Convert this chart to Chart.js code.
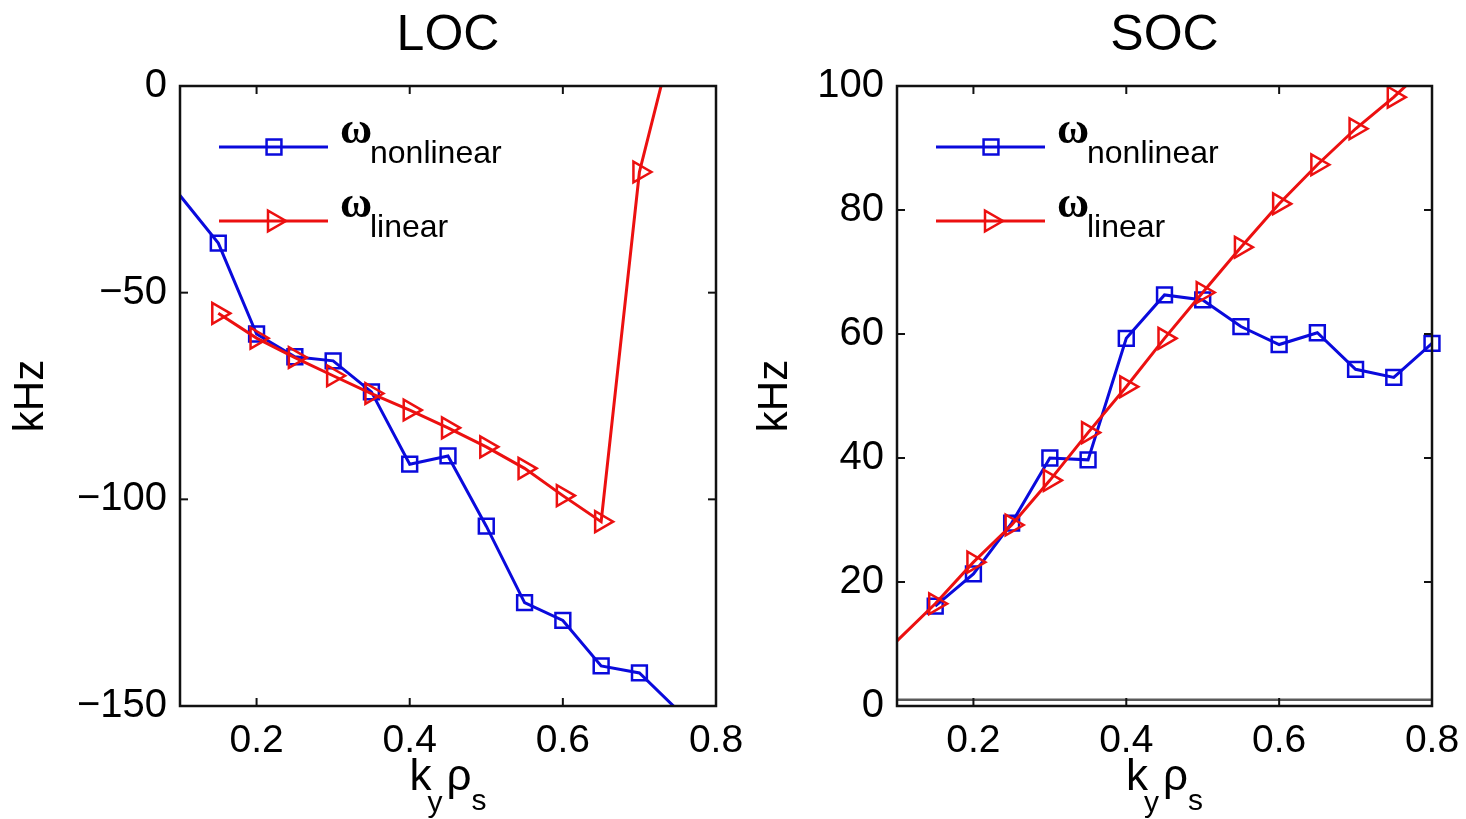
<!DOCTYPE html>
<html>
<head>
<meta charset="utf-8">
<script src="https://cdn.jsdelivr.net/npm/chart.js@4.4.1/dist/chart.umd.min.js"></script>
<style>
html, body { margin: 0; padding: 0; background: #fff; }
#wrap { position: relative; width: 1466px; height: 819px; overflow: hidden; }
.panel { position: absolute; left: 0; top: 0; width: 1466px; height: 819px; }
</style>
</head>
<body>
<div id="wrap">
  <div class="panel"><canvas id="loc"></canvas></div>
  <div class="panel"><canvas id="soc"></canvas></div>
</div>
<script>
// k_y rho_s sample points shared by every series
var kyRho = [0.1, 0.15, 0.2, 0.25, 0.3, 0.35, 0.4, 0.45, 0.5, 0.55, 0.6, 0.65, 0.7, 0.75, 0.8];

// LOC panel (kHz)
var locNonlinear = [-26.5, -38, -60, -65.5, -66.5, -74, -91.5, -89.5, -106.5, -125, -129.3, -140.3, -142, -151, null];
var locLinear = [null, -55, -61, -65.7, -70.1, -74.4, -78.4, -82.7, -87.3, -92.5, -99.1, -105.4, -20.8, 16, null];

// SOC panel (kHz)
var socNonlinear = [null, 16.1, 21.3, 29.5, 40, 39.7, 59.3, 66.3, 65.5, 61.2, 58.3, 60.2, 54.3, 53, 58.5];
var socLinear = [10.5, 16.5, 23.2, 29.2, 36.4, 44.1, 51.5, 59.3, 66.7, 74, 81, 87.3, 93.1, 98.2, 104];
var socFloor = [1, 1];

// axis ticks
var xTicks = [0.2, 0.4, 0.6, 0.8];
var locYTicks = [0, -50, -100, -150];
var socYTicks = [0, 20, 40, 60, 80, 100];

var BLUE = '#0a0adc';
var RED = '#ec1010';

Chart.defaults.font.family = '"Liberation Sans", Arial, Helvetica, sans-serif';
Chart.defaults.color = '#000';

function pts(values) {
  return kyRho.map(function (x, i) { return { x: x, y: values[i] }; })
    .filter(function (p) { return p.y !== null; });
}

// hide markers that sit outside (or on the left edge of) the axes, like the original
function markerRadius(r, xMin, yMin, yMax) {
  return function (c) {
    var p = c.raw;
    if (!p) return 0;
    return (p.x > xMin && p.y >= yMin && p.y <= yMax) ? r : 0;
  };
}

function seriesSet(values, color, style, r, yMin, yMax, order) {
  return {
    data: pts(values),
    borderColor: color,
    backgroundColor: 'rgba(0,0,0,0)',
    borderWidth: 3,
    pointStyle: style,
    pointRotation: style === 'triangle' ? 90 : 0,
    pointBorderWidth: 2.5,
    pointRadius: markerRadius(r, 0.1, yMin, yMax),
    legendRadius: r,
    tension: 0,
    order: order,
    clip: { left: 0, top: 0, right: 15, bottom: 0 }
  };
}

function drawMarker(ctx, style, r, rot, x, y) {
  if (Chart.helpers && Chart.helpers.drawPoint) {
    Chart.helpers.drawPoint(ctx, { pointStyle: style, radius: r, rotation: rot, borderWidth: 2.5 }, x, y);
    return;
  }
  ctx.beginPath();
  if (style === 'rect') {
    var s = r * Math.SQRT1_2;
    ctx.rect(x - s, y - s, 2 * s, 2 * s);
  } else {
    ctx.moveTo(x + r, y);
    ctx.lineTo(x - r / 2, y - r * 0.866);
    ctx.lineTo(x - r / 2, y + r * 0.866);
    ctx.closePath();
  }
  ctx.stroke();
}

// MATLAB-like box, inward ticks, title, x label and legend
var matlabFrame = {
  id: 'matlabFrame',
  afterDraw: function (chart, args, opts) {
    var ctx = chart.ctx, a = chart.chartArea;
    var xs = chart.scales.x, ys = chart.scales.y;
    var fam = Chart.defaults.font.family;
    function seg(x1, y1, x2, y2) { ctx.beginPath(); ctx.moveTo(x1, y1); ctx.lineTo(x2, y2); ctx.stroke(); }
    ctx.save();

    ctx.strokeStyle = '#111';
    ctx.lineWidth = 2;
    xs.ticks.forEach(function (t) {
      var px = xs.getPixelForValue(t.value);
      seg(px, a.bottom, px, a.bottom - 8);
      seg(px, a.top, px, a.top + 8);
    });
    ys.ticks.forEach(function (t) {
      var py = ys.getPixelForValue(t.value);
      seg(a.left, py, a.left + 8, py);
      seg(a.right, py, a.right - 8, py);
    });
    ctx.lineWidth = 2.5;
    ctx.strokeRect(a.left, a.top, a.right - a.left, a.bottom - a.top);

    var cx = (a.left + a.right) / 2;
    ctx.fillStyle = '#000';
    ctx.textAlign = 'center';
    ctx.textBaseline = 'alphabetic';
    ctx.font = '50px ' + fam;
    ctx.fillText(opts.title, cx, a.top - 36);

    // k_y rho_s
    ctx.textAlign = 'left';
    var base = a.bottom + 84, x0 = cx - 38.5;
    [['k', 44, 0, 0], ['y', 30, 18, 22], ['\u03c1', 44, 37, 0], ['s', 30, 62, 20]].forEach(function (p) {
      ctx.font = p[1] + 'px ' + fam;
      ctx.fillText(p[0], x0 + p[2], base + p[3]);
    });

    // legend
    opts.legend.forEach(function (e, i) {
      var ds = chart.data.datasets[e.index];
      var y = a.top + 61 + i * 74;
      ctx.strokeStyle = ds.borderColor;
      ctx.fillStyle = 'rgba(0,0,0,0)';
      ctx.lineWidth = 3;
      seg(a.left + 39, y, a.left + 148, y);
      ctx.lineWidth = 2.5;
      drawMarker(ctx, ds.pointStyle, ds.legendRadius, ds.pointRotation, a.left + 94, y);
      ctx.fillStyle = '#000';
      ctx.font = 'bold 44px "Liberation Serif", "DejaVu Serif", serif';
      ctx.fillText('\u03c9', a.left + 160, y - 4);
      ctx.font = '32px ' + fam;
      ctx.fillText(e.sub, a.left + 190, y + 16);
    });
    ctx.restore();
  }
};

function xAxis() {
  return {
    type: 'linear',
    min: 0.1,
    max: 0.8,
    afterBuildTicks: function (s) { s.ticks = xTicks.map(function (v) { return { value: v }; }); },
    afterFit: function (s) { s.height = 113; s.paddingLeft = 0; s.paddingRight = 0; },
    grid: { display: false, drawTicks: false },
    border: { display: false },
    ticks: { font: { size: 39 }, padding: 12, maxRotation: 0, autoSkip: false,
      callback: function (v) { return String(v); } }
  };
}

function yAxis(ticks, min, max, width, titlePad) {
  return {
    type: 'linear',
    min: min,
    max: max,
    afterBuildTicks: function (s) { s.ticks = ticks.map(function (v) { return { value: v }; }); },
    afterFit: function (s) { s.width = width; },
    grid: { display: false, drawTicks: false },
    border: { display: false },
    ticks: { font: { size: 40 }, padding: 13, autoSkip: false,
      callback: function (v) { return String(v).replace('-', '\u2212'); } },
    title: { display: true, text: 'kHz', font: { size: 42 }, padding: { top: titlePad, bottom: 0 } }
  };
}

function makeChart(id, datasets, yTicks, yMin, yMax, pad, yWidth, titlePad, title) {
  return new Chart(document.getElementById(id), {
    type: 'line',
    data: { datasets: datasets },
    options: {
      responsive: true,
      maintainAspectRatio: false,
      animation: false,
      events: [],
      layout: { padding: pad },
      scales: { x: xAxis(), y: yAxis(yTicks, yMin, yMax, yWidth, titlePad) },
      plugins: {
        legend: { display: false },
        tooltip: { enabled: false },
        matlabFrame: { title: title, legend: [{ index: 0, sub: 'nonlinear' }, { index: 1, sub: 'linear' }] }
      }
    },
    plugins: [matlabFrame]
  });
}

makeChart('loc', [
  seriesSet(locNonlinear, BLUE, 'rect', 10.5, -150, 0, 2),
  seriesSet(locLinear, RED, 'triangle', 12, -150, 0, 1)
], locYTicks, -150, 0, { left: 0, right: 750, top: 86, bottom: 0 }, 180, 6, 'LOC');

var soc = [
  seriesSet(socNonlinear, BLUE, 'rect', 10.5, 0, 100, 2),
  seriesSet(socLinear, RED, 'triangle', 12, 0, 100, 1),
  {
    data: [{ x: 0.1, y: socFloor[0] }, { x: 0.8, y: socFloor[1] }],
    borderColor: '#5a5a5a',
    borderWidth: 2.5,
    pointRadius: 0,
    order: 3
  }
];
makeChart('soc', soc, socYTicks, 0, 100, { left: 733, right: 34, top: 86, bottom: 0 }, 164, 17, 'SOC');
</script>
</body>
</html>
